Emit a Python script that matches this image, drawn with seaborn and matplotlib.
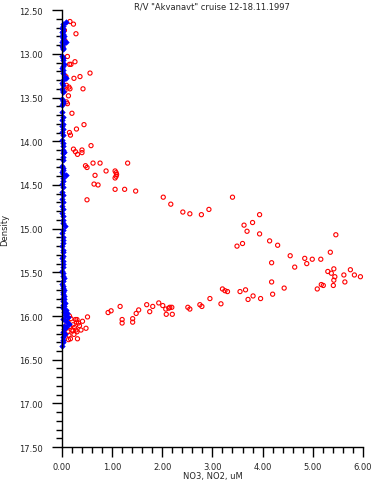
import numpy as np
import pandas as pd
import seaborn as sns
import matplotlib.pyplot as plt
from matplotlib.ticker import MultipleLocator, FormatStrFormatter

# NO2 (blue diamonds) - density / concentration
no2_dens = [12.64, 12.66, 12.68, 12.70, 12.72, 12.74, 12.75, 12.77, 12.79, 12.80, 12.82, 12.84,
            12.86, 12.87, 12.89, 12.91, 12.93, 12.95, 13.02, 13.05, 13.07, 13.12, 13.14, 13.16,
            13.19, 13.22, 13.26, 13.28, 13.30, 13.33, 13.36, 13.40, 13.42, 13.44, 13.52, 13.54,
            13.56, 13.58, 13.66, 13.72, 13.76, 13.80, 13.83, 13.86, 13.89, 13.93, 13.98, 14.02,
            14.06, 14.10, 14.12, 14.14, 14.18, 14.22, 14.28, 14.31, 14.33, 14.35, 14.37, 14.39,
            14.42, 14.46, 14.49, 14.52, 14.58, 14.62, 14.66, 14.70, 14.74, 14.78, 14.82, 14.85,
            14.90, 14.94, 14.97, 15.02, 15.05, 15.09, 15.13, 15.16, 15.20, 15.24, 15.27, 15.31,
            15.34, 15.37, 15.40, 15.44, 15.48, 15.51, 15.54, 15.57, 15.60, 15.63, 15.66, 15.68,
            15.70, 15.72, 15.75, 15.77, 15.79, 15.81, 15.83, 15.85, 15.87, 15.89, 15.91, 15.93,
            15.95, 15.97, 15.99, 16.01, 16.03, 16.05, 16.07, 16.09, 16.11, 16.13, 16.15, 16.18,
            16.21, 16.24, 16.27, 16.30, 16.34]
no2_conc = [0.08, 0.02, 0.03, 0.01, 0.02, 0.03, 0.01, 0.02, 0.04, 0.01, 0.02, 0.03,
            0.01, 0.08, 0.02, 0.01, 0.03, 0.02, 0.01, 0.02, 0.03, 0.04, 0.02, 0.01,
            0.02, 0.03, 0.06, 0.08, 0.02, 0.01, 0.02, 0.01, 0.03, 0.02, 0.01, 0.02,
            0.03, 0.01, 0.01, 0.02, 0.01, 0.02, 0.01, 0.02, 0.01, 0.02, 0.01, 0.02,
            0.03, 0.02, 0.04, 0.02, 0.03, 0.02, 0.01, 0.02, 0.03, 0.01, 0.02, 0.08,
            0.03, 0.02, 0.01, 0.02, 0.01, 0.02, 0.01, 0.02, 0.01, 0.02, 0.01, 0.02,
            0.03, 0.02, 0.06, 0.02, 0.01, 0.02, 0.03, 0.02, 0.01, 0.02, 0.03, 0.02,
            0.01, 0.02, 0.03, 0.02, 0.01, 0.03, 0.02, 0.04, 0.02, 0.01, 0.03, 0.02,
            0.04, 0.02, 0.03, 0.05, 0.02, 0.04, 0.03, 0.06, 0.02, 0.05, 0.03, 0.08,
            0.04, 0.10, 0.06, 0.12, 0.03, 0.07, 0.10, 0.14, 0.04, 0.08, 0.05, 0.03,
            0.06, 0.02, 0.03, 0.02, 0.01]

# NO3 (red circles)
no3_conc = [0.16, 0.23, 0.28, 0.05, 0.06, 0.02, 0.11, 0.26, 0.15, 0.18, 0.56, 0.24, 0.36, 0.08,
            0.09, 0.14, 0.16, 0.42, 0.06, 0.13, 0.09, 0.11, 0.20, 0.44, 0.29, 0.15, 0.17, 0.58,
            0.23, 0.27, 0.31, 0.40, 0.40, 0.62, 0.76, 0.47, 0.50, 1.31, 0.88, 1.06, 1.08, 1.09,
            1.08, 1.06, 0.66, 0.64, 0.72, 1.06, 1.25, 1.47, 0.50,
            2.02, 2.17, 3.40, 2.41, 2.55, 2.78, 2.93, 3.94, 3.80, 3.63, 3.69, 3.94, 4.14, 4.30,
            3.60, 3.49, 4.55, 5.46, 5.35, 4.84, 4.99, 5.16, 4.88, 4.18, 4.64, 5.42, 5.30, 5.37,
            5.75, 5.44, 5.62, 5.83, 5.95, 5.42, 5.64, 5.17, 5.21, 5.09, 5.41, 4.18, 4.43, 4.20,
            3.96, 3.81, 3.71, 3.66, 3.55, 3.20, 3.25, 3.30, 2.95, 3.17, 2.75, 2.79, 2.51, 2.55,
            2.15, 2.19, 2.13, 2.07, 2.08, 2.20, 1.93, 2.01, 1.81, 1.75,
            1.16, 0.98, 0.92, 1.20, 1.20, 1.41, 1.41, 1.48, 1.53, 1.69, 0.51, 0.41, 0.48, 0.30,
            0.27, 0.33, 0.29, 0.28, 0.30, 0.22, 0.20, 0.31, 0.17, 0.13, 0.15, 0.18, 0.12, 0.10,
            0.16, 0.08, 0.12, 0.22, 0.25, 0.06, 0.14, 0.35, 0.38, 0.24, 0.10]
no3_dens = [12.63, 12.66, 12.77, 12.73, 12.85, 12.92, 13.03, 13.09, 13.12, 13.12, 13.22, 13.28,
            13.26, 13.26, 13.36, 13.38, 13.40, 13.40, 13.42, 13.48, 13.55, 13.57, 13.68, 13.81,
            13.86, 13.90, 13.93, 14.05, 14.09, 14.12, 14.15, 14.10, 14.13, 14.25, 14.25, 14.28,
            14.30, 14.25, 14.34, 14.34, 14.36, 14.38, 14.40, 14.42, 14.39, 14.49, 14.50, 14.55,
            14.55, 14.57, 14.67,
            14.64, 14.72, 14.64, 14.81, 14.83, 14.84, 14.78, 14.84, 14.93, 14.96, 15.03, 15.06,
            15.14, 15.19, 15.17, 15.20, 15.31, 15.07, 15.27, 15.34, 15.35, 15.35, 15.40, 15.39,
            15.44, 15.46, 15.49, 15.51, 15.47, 15.55, 15.53, 15.53, 15.55, 15.59, 15.61, 15.64,
            15.65, 15.69, 15.65, 15.61, 15.68, 15.75, 15.80, 15.77, 15.81, 15.70, 15.72, 15.69,
            15.71, 15.72, 15.80, 15.86, 15.87, 15.89, 15.90, 15.92, 15.90, 15.90, 15.91, 15.92,
            15.98, 15.98, 15.85, 15.88, 15.89, 15.95,
            15.89, 15.94, 15.96, 16.04, 16.08, 16.03, 16.07, 15.97, 15.93, 15.87, 16.01, 16.06,
            16.14, 16.04, 16.04, 16.08, 16.07, 16.16, 16.18, 16.17, 16.16, 16.26, 16.26, 16.27,
            16.00, 16.03, 16.06, 16.09, 16.12, 16.14, 16.18, 16.10, 16.13, 16.20, 16.22, 16.11,
            16.16, 16.21, 16.02]

red_df = pd.DataFrame({'conc': no3_conc, 'dens': no3_dens})
blue_df = pd.DataFrame({'conc': no2_conc, 'dens': no2_dens})

sns.set_style('ticks')
plt.rcParams['font.family'] = ['DejaVu Sans']

fig = plt.figure(figsize=(3.73, 4.85), dpi=100)
ax = fig.add_axes([0.166, 0.076, 0.807, 0.901])

sns.scatterplot(data=red_df, x='conc', y='dens', ax=ax, marker='o', s=9,
                facecolor='none', edgecolor='red', linewidth=0.8, clip_on=False)
sns.scatterplot(data=blue_df, x='conc', y='dens', ax=ax, marker='D', s=8,
                color='blue', edgecolor='blue', linewidth=0.4, clip_on=False)

ax.set_xlim(0, 6)
ax.set_ylim(17.5, 12.5)
ax.xaxis.set_major_locator(MultipleLocator(1))
ax.xaxis.set_minor_locator(MultipleLocator(0.2))
ax.yaxis.set_major_locator(MultipleLocator(0.5))
ax.yaxis.set_minor_locator(MultipleLocator(0.1))
ax.xaxis.set_major_formatter(FormatStrFormatter('%.2f'))
ax.yaxis.set_major_formatter(FormatStrFormatter('%.2f'))
ax.tick_params(which='major', length=7, width=1, labelsize=6, color='black')
ax.tick_params(axis='y', which='major', pad=7)
ax.tick_params(axis='x', which='major', pad=4)
ax.tick_params(which='minor', length=4, width=1, color='black')
sns.despine(ax=ax)
for side in ['left', 'bottom']:
    ax.spines[side].set_color('black')
    ax.spines[side].set_linewidth(1)

ax.set_title('R/V "Akvanavt" cruise 12-18.11.1997', fontsize=6, pad=1.5)
ax.set_xlabel('NO3, NO2, uM', fontsize=6, labelpad=0)
ax.set_ylabel('Density', fontsize=6, labelpad=7)

fig.savefig('out.png', dpi=100)
